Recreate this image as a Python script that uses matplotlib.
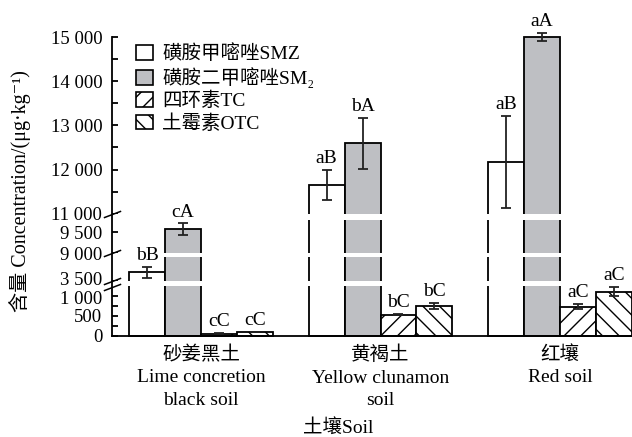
import numpy as np
import matplotlib
matplotlib.use('Agg')
import matplotlib.pyplot as plt
from matplotlib.patches import Patch
from matplotlib.transforms import ScaledTranslation

plt.rcParams['font.family'] = ['Liberation Serif', 'Noto Sans CJK SC', 'DejaVu Sans']
plt.rcParams['hatch.linewidth'] = 1.0
plt.rcParams['axes.linewidth'] = 1.3

soils = ['砂姜黑土\nLime concretion\nblack soil', '黄褐土\nYellow clunamon\nsoil', '红壤\nRed soil']
series = ['磺胺甲嘧唑SMZ', '磺胺二甲嘧唑SM₂', '四环素TC', '土霉素OTC']

smz = [3700, 11660, 12180]
smz_err = [130, 340, 1040]
sm2 = [9570, 12590, 15000]
sm2_err = [140, 580, 95]
tc = [50, 520, 725]
tc_err = [10, 15, 65]
otc = [90, 740, 1100]
otc_err = [10, 70, 120]

letters = [['bB', 'aB', 'aB'],
           ['cA', 'bA', 'aA'],
           ['cC', 'bC', 'aC'],
           ['cC', 'bC', 'aC']]

# broken y axis: value -> height, gaps between the pieces
brk_val = [-1000, 0, 1250, 3500, 4070, 9000, 9800, 11000, 15000, 20000]
brk_pos = [-40, 0, 50, 55, 79, 82.5, 116, 122, 299, 520]
gaps = [(1250, 3500), (4070, 9000), (9800, 11000)]

def fwd(v):
    return np.interp(v, brk_val, brk_pos)

def inv(p):
    return np.interp(p, brk_pos, brk_val)

fig = plt.figure(figsize=(6.32, 4.37), dpi=100)
ax = fig.add_axes([112/632, 1-335.5/437, 520/632, 298.5/437])
ax.set_yscale('function', functions=(fwd, inv))

x = np.arange(len(soils))
w = 0.2
vals = [smz, sm2, tc, otc]
errs = [smz_err, sm2_err, tc_err, otc_err]
colors = ['white', '#bebfc3', 'white', 'white']
hatches = [None, None, '//', '\\\\']

for i in range(4):
    xs = x + (i - 1.5) * w
    ax.bar(xs, vals[i], w, color=colors[i], edgecolor='black', linewidth=1.3,
           hatch=hatches[i], zorder=1, clip_on=False)
    eb = ax.errorbar(xs, vals[i], yerr=errs[i], fmt='none', ecolor='#222222',
                     elinewidth=1.3, capsize=3.8, capthick=1.3, zorder=3)
    for a in eb.lines[1] + eb.lines[2]:
        a.set_clip_on(False)
    for j in range(len(x)):
        ax.annotate(letters[i][j], (xs[j], vals[i][j] + errs[i][j]),
                    xytext=(0, 5), textcoords='offset points',
                    ha='center', va='baseline', fontsize=14, zorder=4,
                    annotation_clip=False)

for lo, hi in gaps:
    ax.axhspan(lo, hi, color='white', lw=0, zorder=2.2)

# break marks on the y axis
for yb in [11000, 9000, 3500, 1225]:
    ax.plot([0], [yb], marker=[(-1, -0.38), (1, 0.38)], markersize=12.5,
            mfc='none', mec='black', mew=1.1, transform=ax.get_yaxis_transform(),
            clip_on=False, zorder=5)

ax.set_ylim(0, 15000)
ax.set_xlim(-0.496, 2.401)
yt = [0, 500, 1000, 3500, 9000, 9500, 11000, 12000, 13000, 14000, 15000]
ax.set_yticks(yt)
ax.set_yticklabels(['0', '500', '1 000', '3 500', '9 000', '9 500',
                    '11 000', '12 000', '13 000', '14 000', '15 000'])
ax.set_yticks([250, 750, 11500, 12500, 13500, 14500], minor=True)
ax.tick_params(axis='y', which='both', direction='in', length=4, width=1.3,
               labelsize=13.5, pad=7)
# the 1 000 and 3 500 labels sit very close, pull them apart a little
labs = ax.get_yticklabels()
labs[2].set_transform(labs[2].get_transform() + ScaledTranslation(0, -2/100, fig.dpi_scale_trans))
labs[3].set_transform(labs[3].get_transform() + ScaledTranslation(0, 2/100, fig.dpi_scale_trans))

ax.set_xticks(x)
ax.set_xticklabels(soils, fontsize=14, linespacing=1.4)
ax.tick_params(axis='x', length=0, pad=7.5)
ax.spines['top'].set_visible(False)
ax.spines['right'].set_visible(False)

handles = [Patch(facecolor=colors[i], edgecolor='black', linewidth=1.2,
                 hatch=hatches[i]) for i in range(4)]
ax.legend(handles, series, loc='upper left', bbox_to_anchor=(0.02, 1.02),
          frameon=False, fontsize=14, handlelength=0.86, handleheight=0.8,
          handletextpad=0.5, labelspacing=0.2, borderpad=0.2)

fig.text(338/632, 1-428/437, '土壤Soil', ha='center', va='center', fontsize=14)
fig.text(20/632, 1-191/437, '含量 Concentration/(μg·kg⁻¹)', rotation=90,
         ha='center', va='center', fontsize=14.5)

fig.savefig('out.png', dpi=100)
